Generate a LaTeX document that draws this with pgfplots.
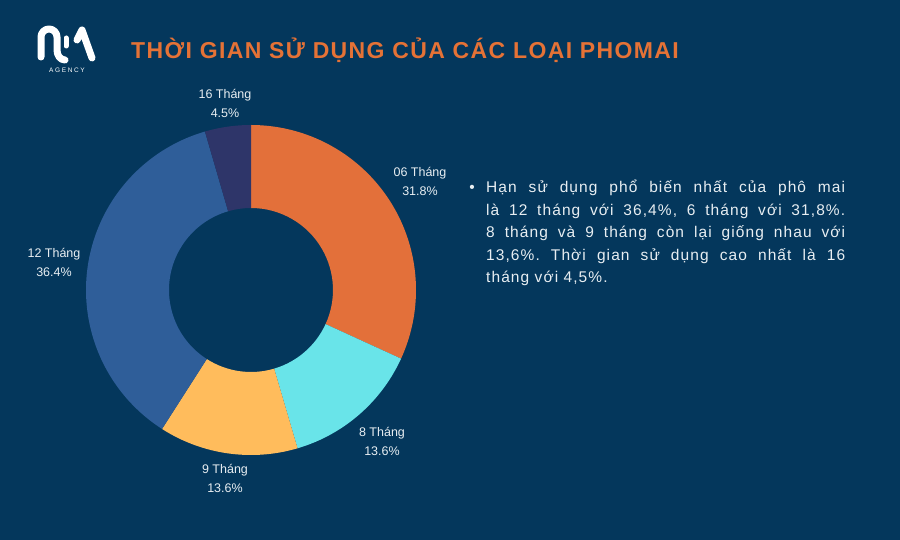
\documentclass[border=0pt]{standalone}
\usepackage{pgfplots}
\pgfplotsset{compat=1.18}
\usepackage{pgfplotstable}
\usepackage{fontspec}
\setmainfont{Liberation Sans}
\newfontfamily\titlefont[LetterSpace=6]{Liberation Sans}
\newfontfamily\bodyfont[LetterSpace=7]{Liberation Sans}
\newfontfamily\logofont[LetterSpace=25]{Liberation Sans}
\definecolor{bg}{HTML}{04375C}
\definecolor{col0}{HTML}{E3703A}
\definecolor{col1}{HTML}{69E4E9}
\definecolor{col2}{HTML}{FFBC5C}
\definecolor{col3}{HTML}{2F5E99}
\definecolor{col4}{HTML}{2E3569}
\definecolor{titlecol}{HTML}{E57236}
\definecolor{labelcol}{HTML}{E8EEF2}
\newcommand\labelfont{\fontsize{12.5}{19}\selectfont}
\frenchspacing

\pgfplotstableread[col sep=comma]{
label,value,lx,ly
06 Tháng,31.8,169,109
8 Tháng,13.6,131,-151
9 Tháng,13.6,-26,-188
12 Tháng,36.4,-197,28
16 Tháng,4.5,-26,187
}\pietable

\begin{document}
\begin{tikzpicture}[x=1pt,y=1pt]
\useasboundingbox (0,0) rectangle (900,540);
\fill[bg] (0,0) rectangle (900,540);

% logo
\begin{scope}[white, line width=7pt, line cap=round, line join=round]
\draw (41,483) -- (41,503) arc[start angle=180, end angle=0, radius=8] -- (57,490) to[out=-90,in=180] (65,480);
\draw[line width=5pt] (66,502) -- (66,494);
\draw (77,500) -- (82,510) -- (92,482);
\end{scope}
\node[anchor=base, text=white, font=\logofont\fontsize{6.5}{7}\selectfont] at (67,467) {AGENCY};

% title
\node[anchor=base west, inner sep=0, text=titlecol, font=\titlefont\bfseries\fontsize{23}{26}\selectfont] at (131,481) {THỜI GIAN SỬ DỤNG CỦA CÁC LOẠI PHOMAI};

% text block
\begin{scope}[every node/.style={anchor=base west, inner sep=0, text=labelcol, font=\bodyfont\fontsize{15.5}{22}\selectfont}]
\node[anchor=base] at (472,347) {•};
\node at (486,347) {\makebox[359pt][s]{Hạn sử dụng phổ biến nhất của phô mai}};
\node at (486,324.5) {\makebox[359pt][s]{là 12 tháng với 36,4\%, 6 tháng với 31,8\%.}};
\node at (486,302) {\makebox[359pt][s]{8 tháng và 9 tháng còn lại giống nhau với}};
\node at (486,279.5) {\makebox[359pt][s]{13,6\%. Thời gian sử dụng cao nhất là 16}};
\node at (486,257) {tháng với 4,5\%.};
\end{scope}

\begin{axis}[at={(251pt,250pt)}, anchor=origin, x=1pt, y=1pt,
  xmin=-170, xmax=170, ymin=-170, ymax=170, hide axis, clip=false]
\pgfmathsetmacro\cum{0}
\pgfplotsforeachungrouped \i in {0,1,2,3,4}{%
 \pgfplotstablegetelem{\i}{value}\of\pietable \let\val\pgfplotsretval
 \pgfplotstablegetelem{\i}{label}\of\pietable \let\lab\pgfplotsretval
 \pgfplotstablegetelem{\i}{lx}\of\pietable \let\lx\pgfplotsretval
 \pgfplotstablegetelem{\i}{ly}\of\pietable \let\ly\pgfplotsretval
 \pgfmathsetmacro\angA{90-(\cum+\val)/99.9*360}%
 \pgfmathsetmacro\angB{90-\cum/99.9*360}%
 \pgfmathsetmacro\cum{\cum+\val}%
 \edef\temp{%
  \noexpand\addplot[fill=col\i, draw=none, domain=\angA:\angB, samples=90, variable=\noexpand\t]
   ({165*cos(\noexpand\t)},{165*sin(\noexpand\t)})
   -- ({82*cos(\angB)},{82*sin(\angB)}) arc[start angle=\angB, end angle=\angA, radius=82pt] -- cycle;
  \noexpand\node[align=center, text=labelcol, font=\noexpand\labelfont] at (\lx,\ly) {\lab\noexpand\\\val\noexpand\%};
 }\temp
}
\end{axis}
\end{tikzpicture}
\end{document}
